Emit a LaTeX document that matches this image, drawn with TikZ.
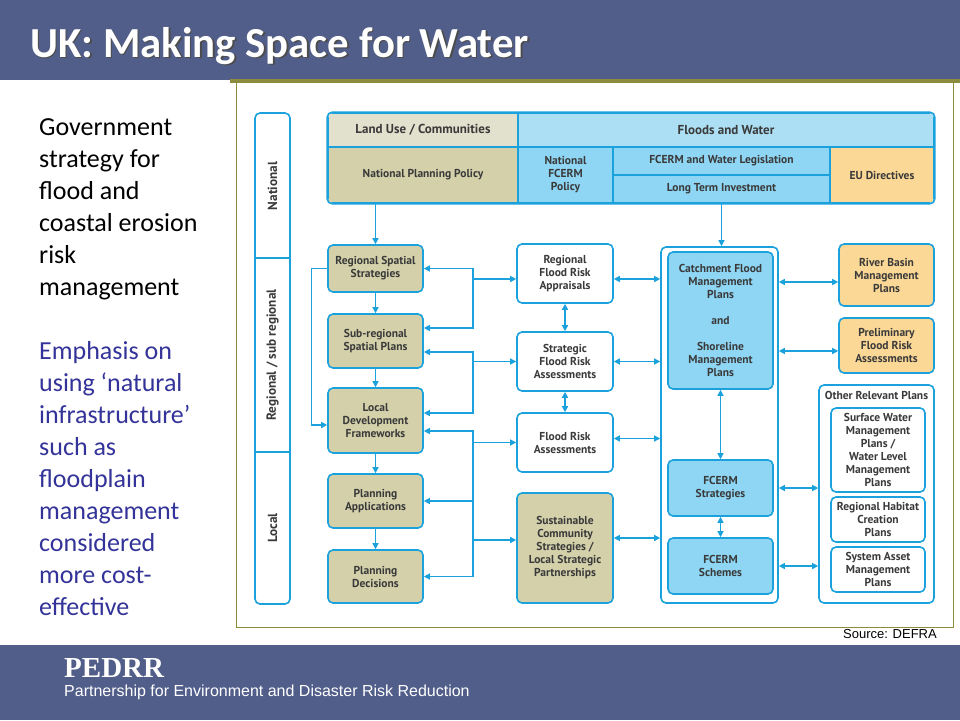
\documentclass[tikz,border=0pt]{standalone}
\usepackage{fontspec}
\usepackage{tikz}
\usetikzlibrary{arrows.meta}
\usetikzlibrary{positioning}

\newfontfamily\calfont{Carlito}
\newfontfamily\boxfont{PT Sans}
\newfontfamily\arialfont{Liberation Sans}
\newfontfamily\timesfont{Liberation Serif}

\definecolor{slate}{RGB}{82,94,138}
\definecolor{olivebar}{RGB}{140,140,62}
\definecolor{fcblue}{RGB}{27,161,219}
\definecolor{khaki}{RGB}{211,208,170}
\definecolor{khakilt}{RGB}{226,225,205}
\definecolor{waterblue}{RGB}{142,214,244}
\definecolor{waterlt}{RGB}{172,223,243}
\definecolor{peach}{RGB}{251,216,150}
\definecolor{boxtext}{RGB}{58,58,58}
\definecolor{notetext}{RGB}{51,51,153}

\tikzset{
    plan/.style={draw=fcblue, line width=1.6pt, rounded corners=5pt, fill=white,
        align=center, inner sep=0pt, text=boxtext,
        font=\boxfont\bfseries\fontsize{11.5}{13}\selectfont},
    cell/.style={draw=fcblue, line width=1.6pt, inner sep=0pt, align=center,
        text=boxtext, font=\boxfont\bfseries\fontsize{11.5}{13}\selectfont},
    level/.style={rotate=90, text=boxtext, font=\boxfont\bfseries\fontsize{13.2}{15}\selectfont},
    link/.style={fcblue, line width=1.3pt, >={Triangle[length=6pt,width=6pt]}}
}

\begin{document}
\begin{tikzpicture}[x=1pt, y=-1pt]
    \useasboundingbox (0,0) rectangle (960,720);

    % Draw the title band and the footer band
    \fill[slate] (0,0) rectangle (960,80);
    \fill[slate] (0,645) rectangle (960,720);
    \fill[olivebar] (230,79) rectangle (960,83);
    \node[anchor=base west, inner sep=0pt, text=black!70, font=\calfont\bfseries\fontsize{42.8}{46}\selectfont]
        (titleshadow) at (31.5,58.5) {UK: Making Space for Water};
    \node[anchor=base west, inner sep=0pt, text=white, font=\calfont\bfseries\fontsize{42.8}{46}\selectfont]
        (title) at (30,57) {UK: Making Space for Water};
    \node[anchor=base west, text=white, inner sep=0pt, font=\timesfont\bfseries\fontsize{29}{32}\selectfont]
        (pedrr) at (64,677) {PEDRR};
    \node[anchor=base west, text=white, inner sep=0pt, font=\arialfont\fontsize{16}{18}\selectfont]
        (pedrrlong) at (64,696) {Partnership for Environment and Disaster Risk Reduction};

    % Frame round the diagram and its source
    \draw[olivebar, line width=1pt] (236,83) -- (236,627) -- (953,627) -- (953,83);
    \node[anchor=base east, inner sep=0pt, font=\arialfont\fontsize{13}{14}\selectfont]
        (source) at (937,638) {Source: DEFRA};

    % The text on the left
    \foreach \txt [count=\i] in {Government, strategy for, flood and, coastal erosion, risk, management}
        \node[anchor=base west, inner sep=0pt, font=\calfont\fontsize{26}{30}\selectfont]
            (gov\i) at (39, 103+32*\i) {\txt};
    \foreach \txt [count=\i] in {Emphasis on, using ‘natural, infrastructure’, such as, floodplain,
        management, considered, more cost-, effective}
        \node[anchor=base west, inner sep=0pt, text=notetext, font=\calfont\fontsize{26}{30}\selectfont]
            (emph\i) at (39, 327+32*\i) {\txt};

    % Levels on the left of the diagram
    \node[plan, minimum width=35pt, minimum height=491pt] (lvl) at (272.5,358.5) {};
    \draw[fcblue, line width=1.6pt] (lvl.west |- 0,258) -- (lvl.east |- 0,258);
    \draw[fcblue, line width=1.6pt] (lvl.west |- 0,452) -- (lvl.east |- 0,452);
    \node[level] (natlbl) at (272.5,186) {National};
    \node[level] (reglbl) at (272.5,355) {Regional / sub regional};
    \node[level] (loclbl) at (272.5,528) {Local};

    % National table
    \begin{scope}
        \clip[rounded corners=5pt] (328,113) rectangle (934,203);
        \node[cell, fill=khakilt, minimum width=190pt, minimum height=34pt, font=\boxfont\bfseries\fontsize{13}{15}\selectfont]
            (luc) at (423,130) {Land Use / Communities};
        \node[cell, fill=waterlt, minimum width=416pt, minimum height=34pt, font=\boxfont\bfseries\fontsize{13}{15}\selectfont]
            (fw) at (726,130) {Floods and Water};
        \node[cell, fill=khaki, minimum width=190pt, minimum height=56pt] (npp) at (423,175) {National Planning Policy};
        \node[cell, fill=waterblue, minimum width=95pt, minimum height=56pt] (nfp) at (565.5,175) {National\\FCERM\\Policy};
        \node[cell, fill=waterblue, minimum width=217pt, minimum height=28pt] (fwl) at (721.5,161) {FCERM and Water Legislation};
        \node[cell, fill=waterblue, minimum width=217pt, minimum height=28pt] (lti) at (721.5,189) {Long Term Investment};
        \node[cell, fill=peach, minimum width=104pt, minimum height=56pt] (eud) at (882,175) {EU Directives};
    \end{scope}
    \draw[fcblue, line width=1.6pt, rounded corners=5pt] (luc.north west) rectangle (eud.south east);

    % Land use column
    \node[plan, fill=khaki, minimum width=95pt, minimum height=47pt] (rss) at (375.5,268.5) {Regional Spatial\\Strategies};
    \node[plan, fill=khaki, minimum width=95pt, minimum height=54pt] (sub) at (375.5,341) {Sub-regional\\Spatial Plans};
    \node[plan, fill=khaki, minimum width=95pt, minimum height=65pt] (ldf) at (375.5,420.5) {Local\\Development\\Frameworks};
    \node[plan, fill=khaki, minimum width=95pt, minimum height=54pt] (app) at (375.5,501) {Planning\\Applications};
    \node[plan, fill=khaki, minimum width=95pt, minimum height=53pt] (dec) at (375.5,576.5) {Planning\\Decisions};

    % Assessment column
    \node[plan, minimum width=96pt, minimum height=59pt] (rfa) at (565,273.5) {Regional\\Flood Risk\\Appraisals};
    \node[plan, minimum width=96pt, minimum height=59pt] (sfra) at (565,361.5) {Strategic\\Flood Risk\\Assessments};
    \node[plan, minimum width=96pt, minimum height=59pt] (fra) at (565,442.5) {Flood Risk\\Assessments};
    \node[plan, fill=khaki, minimum width=96pt, minimum height=110pt] (scs) at (565,548)
        {Sustainable\\Community\\Strategies /\\Local Strategic\\Partnerships};

    % FCERM column
    \node[plan, minimum width=117pt, minimum height=356pt] (cont) at (719.5,425) {};
    \node[plan, fill=waterblue, minimum width=105pt, minimum height=137pt] (cfm) at (720.5,320.5)
        {Catchment Flood\\Management\\Plans\\[13pt]and\\[13pt]Shoreline\\Management\\Plans};
    \node[plan, fill=waterblue, minimum width=105pt, minimum height=56pt] (strat) at (720.5,488) {FCERM\\Strategies};
    \node[plan, fill=waterblue, minimum width=105pt, minimum height=56pt] (sch) at (720.5,566) {FCERM\\Schemes};

    % Other plans on the right
    \node[plan, fill=peach, minimum width=95pt, minimum height=62pt] (rbm) at (886.5,275) {River Basin\\Management\\Plans};
    \node[plan, fill=peach, minimum width=95pt, minimum height=55pt] (pfra) at (886.5,345.5) {Preliminary\\Flood Risk\\Assessments};
    \node[plan, minimum width=115pt, minimum height=218pt] (orp) at (876.5,494) {};
    \node[text=boxtext, inner sep=0pt, font=\boxfont\bfseries\fontsize{11.5}{13}\selectfont] (orptitle) at (876.5,395) {Other Relevant Plans};
    \node[plan, minimum width=94pt, minimum height=84pt] (swm) at (878,450)
        {Surface Water\\Management\\Plans /\\Water Level\\Management\\Plans};
    \node[plan, minimum width=94pt, minimum height=45pt] (rhc) at (878,519.5) {Regional Habitat\\Creation\\Plans};
    \node[plan, minimum width=94pt, minimum height=45pt] (sam) at (878,569.5) {System Asset\\Management\\Plans};

    % Arrows down from the national level
    \draw[link,->] (rss.north |- npp.south) -- (rss.north);
    \draw[link,->] (lti.south) -- (lti.south |- cont.north);

    % Arrows down the land use column
    \foreach \a/\b in {rss/sub, sub/ldf, ldf/app, app/dec}
        \draw[link,->] (\a.south) -- (\b.north);
    \draw[link,->] (rss.west) -- ++(-16pt,0) |- ([yshift=-4.5pt]ldf.west);

    % Links between the land use column and the assessments
    \coordinate (bus) at (473,0);
    \draw[link,<->] (rss.east) -- (rss.east -| bus) |- ([yshift=13pt]sub.east);
    \draw[link,->] ([yshift=-5.5pt]rfa.west -| bus) -- ([yshift=-5.5pt]rfa.west);
    \draw[link,<->] ([yshift=-11pt]sub.east) -- ([yshift=-11pt]sub.east -| bus) |- ([yshift=7.5pt]ldf.east);
    \draw[link,->] (sfra.west -| bus) -- (sfra.west);
    \draw[link,<->] ([yshift=-10.5pt]ldf.east) -- ([yshift=-10.5pt]ldf.east -| bus) |- (dec.east);
    \draw[link,->] (app.east -| bus) -- (app.east);
    \draw[link,->] (fra.west -| bus) -- (fra.west);
    \draw[link,->] ([yshift=8pt]scs.west -| bus) -- ([yshift=8pt]scs.west);

    % Links within and out of the assessment column
    \draw[link,<->] (rfa.south) -- (sfra.north);
    \draw[link,<->] (sfra.south) -- (fra.north);
    \draw[link,<->] ([yshift=-5.5pt]rfa.east) -- ([yshift=-5.5pt]rfa.east -| cont.west);
    \draw[link,<->] (sfra.east) -- (sfra.east -| cont.west);
    \draw[link,<->] ([yshift=4pt]fra.east) -- ([yshift=4pt]fra.east -| cont.west);
    \draw[link,<->] ([yshift=10pt]scs.east) -- ([yshift=10pt]scs.east -| cont.west);

    % Links within and out of the FCERM column
    \draw[link,<->] (cfm.south) -- (strat.north);
    \draw[link,<->] (strat.south) -- (sch.north);
    \draw[link,<->] ([yshift=-7pt]rbm.west -| cont.east) -- ([yshift=-7pt]rbm.west);
    \draw[link,<->] ([yshift=-5.5pt]pfra.west -| cont.east) -- ([yshift=-5.5pt]pfra.west);
    \draw[link,<->] (strat.east -| cont.east) -- (strat.east -| orp.west);
    \draw[link,<->] (sch.east -| cont.east) -- (sch.east -| orp.west);
\end{tikzpicture}
\end{document}
